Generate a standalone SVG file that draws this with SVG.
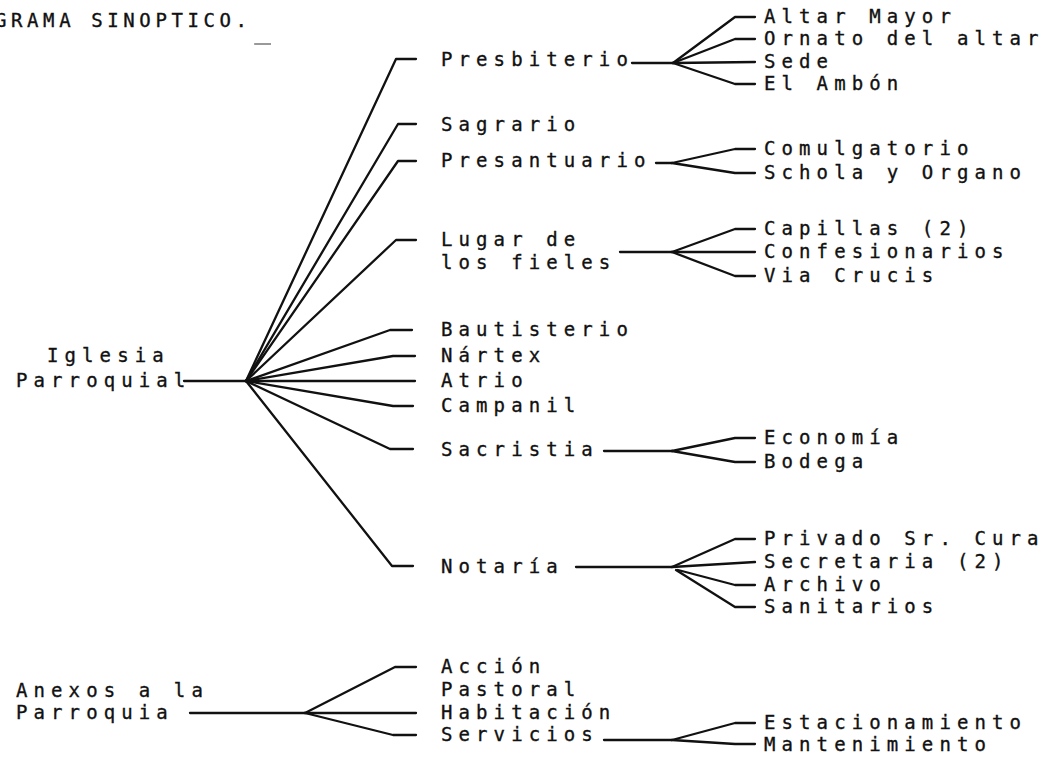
<svg xmlns="http://www.w3.org/2000/svg" width="1062" height="759" viewBox="0 0 1062 759">
<style>
text{font-family:"DejaVu Sans Mono","Liberation Mono",monospace;font-size:19px;letter-spacing:6.1px;fill:#111;stroke:#111;stroke-width:0.35px}
#title text{letter-spacing:4.6px}
.c path{fill:none;stroke:#111;stroke-width:2.3;stroke-linecap:round;stroke-linejoin:round}
</style>
<rect width="1062" height="759" fill="#fff"/>
<g id="title"><text x="-5" y="27">GRAMA SINOPTICO.</text>
<line x1="254" y1="44" x2="271" y2="44" stroke="#555" stroke-width="1.2"/></g>
<g class="c" id="connectors">
<path d="M184,381 L246,381"/>
<path d="M246,381 L396,59 L416,59"/>
<path d="M246,381 L398,124 L416,124"/>
<path d="M246,381 L398,161 L416,161"/>
<path d="M246,381 L396,240 L416,240"/>
<path d="M246,381 L390,330 L412,330"/>
<path d="M246,381 L393,356 L415,356"/>
<path d="M246,381 L415,381"/>
<path d="M246,381 L393,406 L413,406"/>
<path d="M246,381 L390,449 L413,449"/>
<path d="M246,381 L392,566 L413,566"/>
<path d="M632,63 L673,63"/>
<path d="M673,63 L735,17 L755,17"/>
<path d="M673,63 L735,39 L755,39"/>
<path d="M673,63 L755,62"/>
<path d="M673,63 L735,84 L755,84"/>
<path d="M656,163 L672,163"/>
<path d="M672,163 L735,149 L755,149"/>
<path d="M672,163 L735,173 L755,173"/>
<path d="M620,252 L672,252"/>
<path d="M672,252 L735,229 L755,229"/>
<path d="M672,252 L755,252"/>
<path d="M672,252 L735,276 L755,276"/>
<path d="M604,451 L672,451"/>
<path d="M672,451 L735,438 L755,438"/>
<path d="M672,451 L735,462 L755,462"/>
<path d="M576,567 L672,567"/>
<path d="M672,567 L735,539 L755,539"/>
<path d="M672,567 L755,562"/>
<path d="M678,570 L735,585 L755,585"/>
<path d="M676,570 L735,607 L755,607"/>
<path d="M190,713 L305,713"/>
<path d="M305,713 L395,667 L416,667"/>
<path d="M305,713 L416,713"/>
<path d="M305,713 L393,735 L416,735"/>
<path d="M604,740 L672,740"/>
<path d="M672,740 L735,723 L755,723"/>
<path d="M672,740 L735,744 L755,744"/>
</g>
<g id="iglesia"><text x="47" y="362">Iglesia</text><text x="16" y="387">Parroquial</text></g>
<g id="anexos"><text x="16" y="697">Anexos a la</text><text x="16" y="719">Parroquia</text></g>
<g id="presbiterio"><text x="441" y="66">Presbiterio</text></g>
<g id="sagrario"><text x="441" y="131">Sagrario</text></g>
<g id="presantuario"><text x="441" y="167">Presantuario</text></g>
<g id="lugar"><text x="441" y="246">Lugar de</text><text x="441" y="269">los fieles</text></g>
<g id="bautisterio"><text x="441" y="336">Bautisterio</text></g>
<g id="nartex"><text x="441" y="362">Nártex</text></g>
<g id="atrio"><text x="441" y="387">Atrio</text></g>
<g id="campanil"><text x="441" y="412">Campanil</text></g>
<g id="sacristia"><text x="441" y="456">Sacristia</text></g>
<g id="notaria"><text x="441" y="573">Notaría</text></g>
<g id="accion"><text x="441" y="673">Acción</text><text x="441" y="696">Pastoral</text></g>
<g id="habitacion"><text x="441" y="719">Habitación</text></g>
<g id="servicios"><text x="441" y="741">Servicios</text></g>
<g id="altar"><text x="764" y="23">Altar Mayor</text></g>
<g id="ornato"><text x="764" y="45">Ornato del altar</text></g>
<g id="sede"><text x="764" y="68">Sede</text></g>
<g id="ambon"><text x="764" y="90">El Ambón</text></g>
<g id="comulgatorio"><text x="764" y="155">Comulgatorio</text></g>
<g id="schola"><text x="764" y="179">Schola y Organo</text></g>
<g id="capillas"><text x="764" y="235">Capillas (2)</text></g>
<g id="confesionarios"><text x="764" y="258">Confesionarios</text></g>
<g id="viacrucis"><text x="764" y="282">Via Crucis</text></g>
<g id="economia"><text x="764" y="444">Economía</text></g>
<g id="bodega"><text x="764" y="468">Bodega</text></g>
<g id="privado"><text x="764" y="545">Privado Sr. Cura</text></g>
<g id="secretaria"><text x="764" y="568">Secretaria (2)</text></g>
<g id="archivo"><text x="764" y="591">Archivo</text></g>
<g id="sanitarios"><text x="764" y="613">Sanitarios</text></g>
<g id="estacionamiento"><text x="764" y="729">Estacionamiento</text></g>
<g id="mantenimiento"><text x="764" y="751">Mantenimiento</text></g>
</svg>
